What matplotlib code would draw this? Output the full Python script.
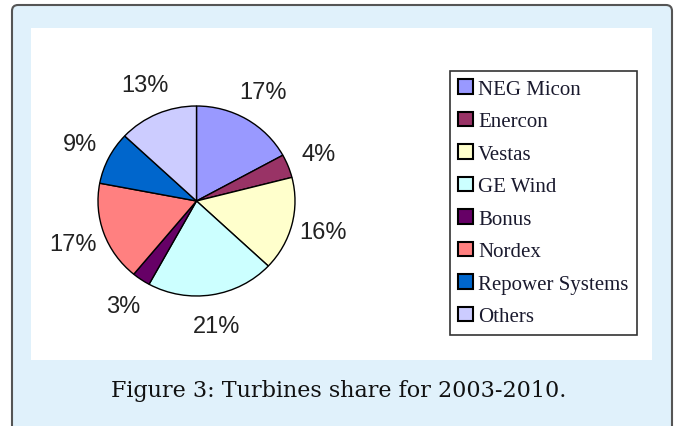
import matplotlib.pyplot as plt
import matplotlib.transforms as mtransforms
from matplotlib.patches import FancyBboxPatch, Rectangle, Patch

# ── Data ──────────────────────────────────────────────────────────────────────
makers = ["NEG Micon", "Enercon", "Vestas", "GE Wind", "Bonus", "Nordex",
          "Repower Systems", "Others"]
shares = [17, 4, 16, 21, 3, 17, 9, 13]
colors = ["#9999ff", "#993366", "#ffffcc", "#ccffff", "#660066", "#ff8080",
          "#0066cc", "#ccccff"]
caption = "Figure 3: Turbines share for 2003-2010."

W, H = 679, 427
fig = plt.figure(figsize=(W / 100, H / 100), dpi=100)
fig.patch.set_facecolor("white")


def frac(x, y):
    # pixel coords (top-left origin) -> figure fraction
    return x / W, 1 - y / H


# ── Framing: light blue rounded box + white panel ─────────────────────────────
box = FancyBboxPatch((12, -20), 660, H - 6 + 20,
                     boxstyle="round,pad=0,rounding_size=6",
                     transform=mtransforms.IdentityTransform(),
                     facecolor="#e0f1fb", edgecolor="#555555", linewidth=1.5,
                     zorder=0)
fig.add_artist(box)
panel = Rectangle((31, H - 361), 652 - 31, 361 - 29,
                  transform=mtransforms.IdentityTransform(),
                  facecolor="white", edgecolor="none", zorder=0.5)
fig.add_artist(panel)

# ── Pie ───────────────────────────────────────────────────────────────────────
cx, cy = 196.5, 202
rx, ry = 98.5, 95
half_w, half_h = 160, 150
l, b = frac(cx - half_w, cy + half_h)
ax = fig.add_axes([l, b, 2 * half_w / W, 2 * half_h / H])
wedges, _, autotexts = ax.pie(
    shares, colors=colors, startangle=90, counterclock=False,
    autopct="%d%%", pctdistance=1.33,
    wedgeprops=dict(edgecolor="black", linewidth=1.0),
    textprops=dict(fontsize=17, family="Liberation Sans", color="#222222"),
)
ax.set_aspect("auto")
ax.set_xlim(-half_w / rx, half_w / rx)
ax.set_ylim(-half_h / ry, half_h / ry)
ax.set_zorder(2)

# ── Legend ────────────────────────────────────────────────────────────────────
handles = [Patch(facecolor=c, edgecolor="black", linewidth=1.5) for c in colors]
leg = ax.legend(handles, makers, loc="upper left",
                bbox_to_anchor=frac(450, 72), bbox_transform=fig.transFigure,
                prop=dict(family="Liberation Serif", size=15),
                frameon=True, fancybox=False, edgecolor="black",
                handlelength=0.7, handleheight=0.7, handletextpad=0.25,
                labelspacing=0.62, borderpad=0.4, borderaxespad=0)
leg.get_frame().set_linewidth(1.2)
for t in leg.get_texts():
    t.set_color("#1a1a2e")

# ── Caption ───────────────────────────────────────────────────────────────────
fig.text(*frac(338.5, 391), caption, ha="center", va="center",
         fontsize=16, family="DejaVu Serif", color="#111111")

fig.savefig("out.png", dpi=100, facecolor="white")
